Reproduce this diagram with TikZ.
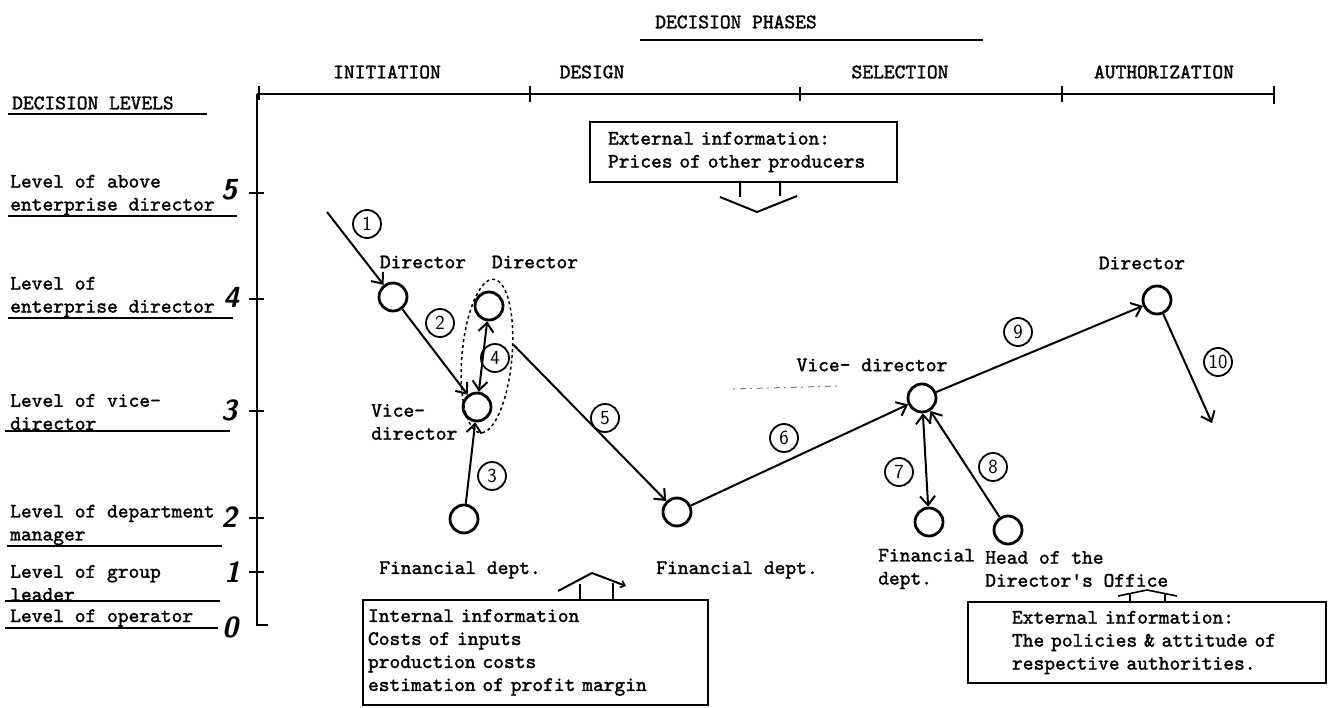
\documentclass[tikz,border=0pt]{standalone}
\usepackage{fontspec}
\setmonofont[FakeBold=1.6]{lmmono10-regular.otf}
\usetikzlibrary{arrows.meta,shapes.geometric}
\begin{document}
\begin{tikzpicture}[x=1pt,y=-1pt,
    txt/.style={font=\ttfamily\fontsize{20.5}{23}\selectfont,inner sep=0pt,align=left},
    lvl/.style={font=\sffamily\bfseries\itshape\fontsize{29}{29}\selectfont,inner sep=0pt},
    person/.style={draw,circle,line width=2.8pt,minimum size=28pt,inner sep=0pt},
    num/.style={draw,circle,line width=1.8pt,minimum size=28pt,inner sep=0pt,font=\sffamily\fontsize{20}{20}\selectfont},
    flow/.style={line width=2pt,-{Straight Barb[length=9pt,width=15pt,line width=2pt]}},
    both/.style={line width=2pt,{Straight Barb[length=9pt,width=15pt,line width=2pt]}-{Straight Barb[length=9pt,width=15pt,line width=2pt]}},
    infobox/.style={draw,line width=2.2pt,txt,align=left}]
        \useasboundingbox (0,0) rectangle (1332,708);
        \node[txt] (title) at (736,22) {DECISION PHASES};
        \draw[line width=2.2pt] (640,40) -- (983,40);
        \node[txt] (ph1) at (387,72) {INITIATION};
        \node[txt] (ph2) at (592,72) {DESIGN};
        \node[txt] (ph3) at (900,72) {SELECTION};
        \node[txt] (ph4) at (1164,72) {AUTHORIZATION};
        \draw[line width=2.6pt] (257,94) -- (1274,94);
        \draw[line width=2.2pt] (259,86) -- (259,100) (530,86) -- (530,102) (800,87) -- (800,101) (1062,86) -- (1062,102) (1274,86) -- (1274,104);
        \draw[line width=2.8pt] (257,94) -- (257,625) -- (268,625);
        \draw[line width=2.2pt] (249,193) -- (264,193) (249,299) -- (264,299) (249,411) -- (264,411) (249,518) -- (264,518) (249,572) -- (264,572);
        \node[txt,anchor=west] (lvtitle) at (12,103) {DECISION LEVELS};
        \draw[line width=2.4pt] (8,114) -- (207,114);
        \node[txt,anchor=west] (lv5) at (10,195) {Level of above\\enterprise director};
        \draw[line width=2.2pt] (8,216) -- (237,216);
        \node[txt,anchor=west] (lv4) at (10,297) {Level of\\enterprise director};
        \draw[line width=2.2pt] (8,318) -- (233,318);
        \node[txt,anchor=west] (lv3) at (10,412) {Level of vice-\\director};
        \draw[line width=2.2pt] (5,431) -- (230,431);
        \node[txt,anchor=west] (lv2) at (10,525) {Level of department\\manager};
        \draw[line width=2.2pt] (7,546) -- (222,546);
        \node[txt,anchor=west] (lv1) at (10,583) {Level of group\\leader};
        \draw[line width=2.2pt] (5,601) -- (220,601);
        \node[txt,anchor=west] (lv0) at (10,618) {Level of operator};
        \draw[line width=2.2pt] (5,628) -- (218,628);
        \node[lvl] (d5) at (229,190) {5};
        \node[lvl] (d4) at (231,297) {4};
        \node[lvl] (d3) at (229,410) {3};
        \node[lvl] (d2) at (229,517) {2};
        \node[lvl] (d1) at (232,572) {1};
        \node[lvl] (d0) at (230,627) {0};
        \node[person] (dirA) at (393,297) {};
        \node[person] (dirB) at (489,306) {};
        \node[person] (viceA) at (477,407) {};
        \node[person] (finA) at (464,519) {};
        \node[person] (finB) at (677,512) {};
        \node[person] (viceB) at (922,398) {};
        \node[person] (finC) at (929,522) {};
        \node[person] (headOff) at (1008,530) {};
        \node[person] (dirC) at (1157,300) {};
        \node[draw,dashed,ellipse,line width=1.5pt,minimum width=50pt,minimum height=154pt,rotate=-5] (grp) at (487,356) {};
        \coordinate (start) at (327,212);
        \coordinate (stop) at (1212,423);
        \node[txt] (lbDirA) at (423,262) {Director};
        \node[txt] (lbDirB) at (535,262) {Director};
        \node[txt,anchor=west] (lbViceA) at (371,422) {Vice-\\director};
        \node[txt] (lbFinA) at (460,570) {Financial dept.};
        \node[txt] (lbFinB) at (737,570) {Financial dept.};
        \node[txt] (lbViceB) at (872,365) {Vice- director};
        \node[txt,anchor=west] (lbFinC) at (878,569) {Financial\\dept.};
        \node[txt,anchor=west] (lbHead) at (985,569) {Head of the\\Director's Office};
        \node[txt] (lbDirC) at (1142,263) {Director};
        \draw[gray,line width=1pt,dash pattern=on 2pt off 5pt on 6pt off 4pt] (733,389) -- (838,386);
        \draw[flow] (start) -- (dirA);
        \draw[flow] (dirA) -- (viceA);
        \draw[flow] (finA) -- (viceA);
        \draw[both] (dirB) -- (viceA);
        \draw[flow] (grp.28) -- (finB);
        \draw[flow] (finB) -- (viceB);
        \draw[both] (viceB) -- (finC);
        \draw[flow] (headOff) -- (viceB);
        \draw[flow] (viceB) -- (dirC);
        \draw[flow] (dirC) -- (stop);
        \node[num] (n1) at (367,224) {1};
        \node[num] (n2) at (440,323) {2};
        \node[num] (n3) at (492,476) {3};
        \node[num] (n4) at (495,358) {4};
        \node[num] (n5) at (605,418) {5};
        \node[num] (n6) at (784,438) {6};
        \node[num] (n7) at (899,472) {7};
        \node[num] (n8) at (993,467) {8};
        \node[num] (n9) at (1018,332) {9};
        \node[num] (n10) at (1218,362) {10};
        \node[infobox,text width=271pt,inner xsep=18pt,inner ysep=0pt,minimum height=60pt] (extA) at (743.5,152) {External information:\\Prices of other producers};
        \node[infobox,text width=335pt,inner xsep=5pt,inner ysep=0pt,minimum height=105pt] (intA) at (535.5,652.5) {Internal information\\Costs of inputs\\production costs\\estimation of profit margin};
        \node[infobox,text width=270pt,inner xsep=44pt,inner ysep=0pt,minimum height=81pt] (extB) at (1147,642.5) {External information:\\The policies \& attitude of\\respective authorities.};
        \draw[line width=2pt] (740,182) -- (740,197) (780,182) -- (780,196) (720,197) -- (757,212) -- (797,196);
        \draw[line width=2pt] (580,600) -- (580,584) (613,600) -- (613,583);
        \draw[line width=2pt,-{Straight Barb[length=4pt,width=7pt,line width=1.6pt]}] (558,591) -- (592,573) -- (626,586);
        \draw[line width=1.6pt] (1130,602) -- (1130,594) (1165,602) -- (1165,594) (1118,596) -- (1147,590) -- (1177,596);
    \end{tikzpicture}
\end{document}
